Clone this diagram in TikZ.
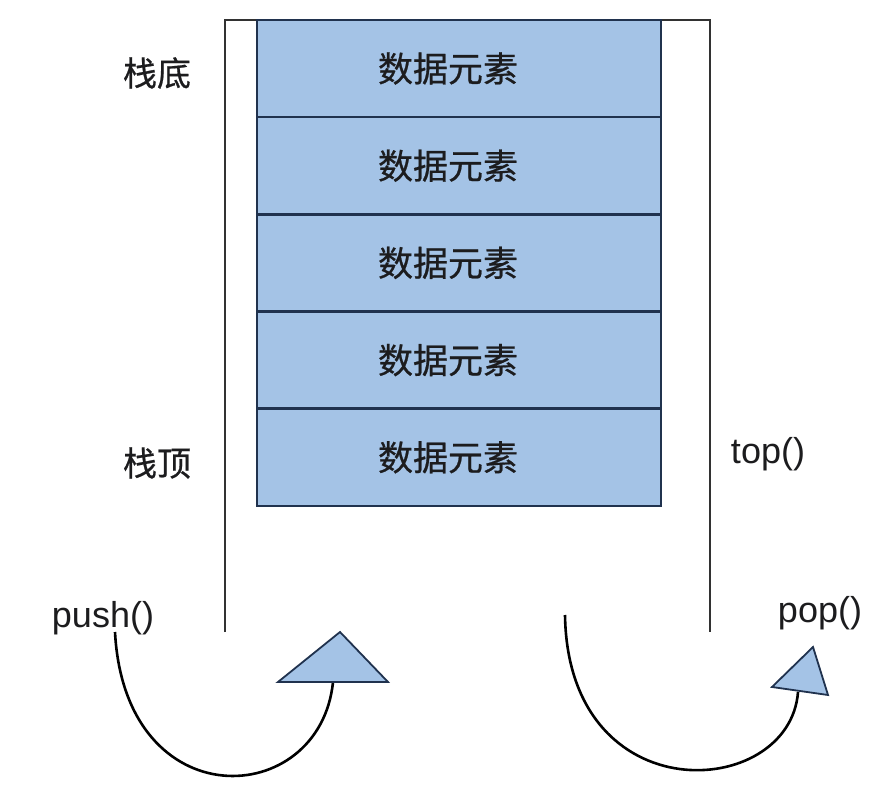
\documentclass[tikz,border=0pt]{standalone}
\usepackage{fontspec}
\setmainfont{Liberation Sans}
\newfontfamily\cjk[FakeBold=0.6]{Noto Sans CJK SC}
\definecolor{cellfill}{RGB}{164,195,230}
\definecolor{cellline}{RGB}{32,50,78}
\definecolor{wallline}{RGB}{50,50,50}
\definecolor{txt}{RGB}{28,28,30}
\begin{document}
\begin{tikzpicture}[x=1pt,y=-1pt,
  cell/.style={draw=cellline,fill=cellfill,line width=2.6pt,minimum width=404pt,minimum height=97.2pt,inner sep=0pt},
  celltext/.style={font=\cjk\fontsize{35}{40}\selectfont,text=txt,inner sep=0pt},
  side/.style={font=\cjk\fontsize{34}{40}\selectfont,text=txt,inner sep=0pt},
  fn/.style={font=\fontsize{36}{40}\selectfont,text=txt,inner sep=0pt,anchor=base},
  wall/.style={draw=wallline,line width=2.2pt},
  curve/.style={draw=black,line width=2.6pt},
  head/.style={draw=cellline,fill=cellfill,line width=1.8pt,line join=miter}]
\useasboundingbox (0,0) rectangle (883,799);
\fill[white] (0,0) rectangle (883,799);
% container
\coordinate (wl) at (225,632);
\coordinate (wtl) at (225,20);
\coordinate (wtr) at (710,20);
\coordinate (wr) at (710,632);
\draw[wall] (wl) -- (wtl) -- (wtr) -- (wr);
% cells
\foreach \i/\y in {1/68.5,2/165.7,3/262.9,4/360.1,5/457.3}{
  \node[cell] (r\i) at (459,\y) {};
  \node[celltext] (t\i) at ([xshift=-11pt]r\i.center) {数据元素};
}
% side labels
\node[side] (bottom) at (157,73) {栈底};
\node[side] (topl) at (157,463) {栈顶};
\node[fn] (topf) at (768,463) {top()};
\node[fn] (push) at (103,627) {push()};
\node[fn] (pop) at (820,622) {pop()};
% push arrow
\coordinate (ps) at (115,632);
\coordinate (pe) at (333,682);
\draw[curve] (ps) .. controls (125,820) and (320,810) .. (pe);
\coordinate (pa) at (340,632);
\coordinate (pb) at (278,682);
\coordinate (pc) at (388,682);
\draw[head] (pa) -- (pb) -- (pc) -- cycle;
% pop arrow
\coordinate (os) at (565,615);
\coordinate (oe) at (798,692);
\draw[curve] (os) .. controls (568,815) and (790,800) .. (oe);
\coordinate (oa) at (813,647);
\coordinate (ob) at (772,687);
\coordinate (oc) at (828,695);
\draw[head] (oa) -- (ob) -- (oc) -- cycle;
\end{tikzpicture}
\end{document}
